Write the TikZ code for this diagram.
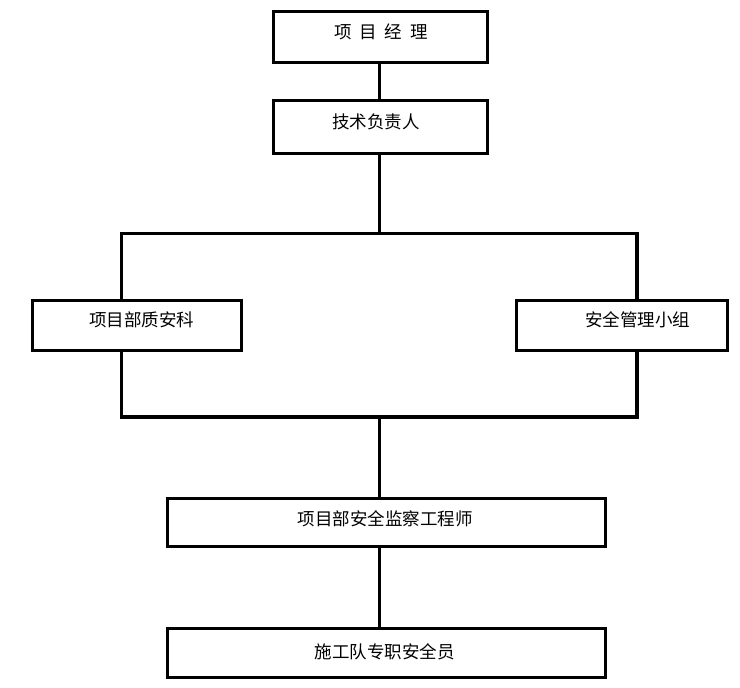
\documentclass[tikz,border=0pt]{standalone}
\usepackage{fontspec}
\setmainfont{Noto Sans CJK SC}
\begin{document}
\begin{tikzpicture}[x=1pt,y=-1pt,
  box/.style={draw=black,line width=3.2pt,fill=white,rectangle,inner sep=0pt},
  conn/.style={draw=black,line width=3.2pt},
  lbl/.style={font=\fontsize{17.5}{19}\selectfont,inner sep=0pt,anchor=center}]
\useasboundingbox[fill=white] (0,0) rectangle (740,688);
% boxes
\node[box,minimum width=214pt,minimum height=51pt] (pm) at (380.5,37) {};
\node[box,minimum width=214pt,minimum height=53pt] (tech) at (380.5,127) {};
\node[box,minimum width=209pt,minimum height=50pt] (qs) at (137,325.5) {};
\node[box,minimum width=211pt,minimum height=50pt] (sg) at (622,325.5) {};
\node[box,minimum width=438pt,minimum height=48pt] (eng) at (386.5,522.5) {};
\node[box,minimum width=438pt,minimum height=49pt] (crew) at (386.5,653) {};
% labels
\node[lbl] (tpm) at (381,31.5) {项\hspace{8pt}目\hspace{8pt}经\hspace{8pt}理};
\node[lbl] (ttech) at (376,121.5) {技术负责人};
\node[lbl] (tqs) at (141.5,320) {项目部质安科};
\node[lbl] (tsg) at (637.5,320) {安全管理小组};
\node[lbl] (teng) at (385,518.5) {项目部安全监察工程师};
\node[lbl] (tcrew) at (384.5,651.5) {施工队专职安全员};
% junction coordinates
\coordinate (top) at (379.5,233.5);
\coordinate (tl) at (121.5,233.5);
\coordinate (tr) at (637,233.5);
\coordinate (bl) at (121.5,417);
\coordinate (br) at (637,417);
\coordinate (bot) at (379.5,417);
% connectors
\draw[conn] (pm.south -| top) -- (tech.north -| top);
\draw[conn] (tech.south -| top) -- (top);
\draw[conn,line join=miter] (tl |- qs.north) -- (tl) -- (tr) -- (tr |- sg.north);
\draw[conn,line join=miter] (tl |- qs.south) -- (bl) -- (br) -- (tr |- sg.south);
\draw[conn] (bot) -- (eng.north -| bot);
\draw[conn] (eng.south -| bot) -- (crew.north -| bot);
\end{tikzpicture}
\end{document}
